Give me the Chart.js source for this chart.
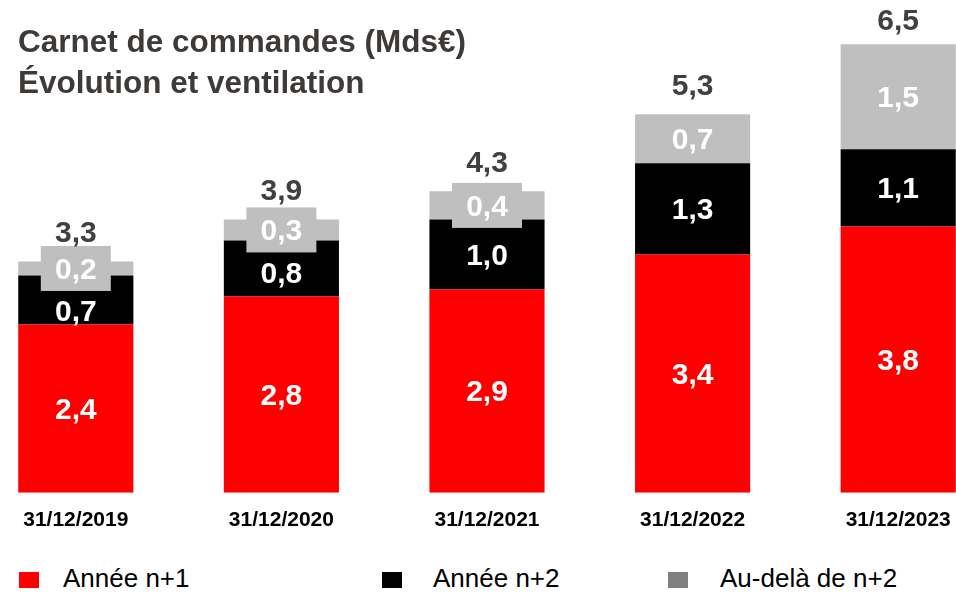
<!DOCTYPE html>
<html>
<head>
<meta charset="utf-8">
<script src="https://cdn.jsdelivr.net/npm/chart.js@4.4.0/dist/chart.umd.min.js"></script>
<style>
  body { margin: 0; width: 956px; height: 593px; overflow: hidden; position: relative; background: #fff;
         font-family: "Liberation Sans", Arial, sans-serif; }
  #titre { position: absolute; left: 18px; top: 21px; font-size: 31.5px; line-height: 41px; font-weight: bold; color: #3d3a38; z-index: 2; }
  #wrap { position: absolute; left: -27px; top: 0; width: 1028px; height: 540px; }
  .leg { position: absolute; top: 563px; font-size: 26px; color: #000; height: 30px; line-height: 30px; }
  .leg span { position: absolute; left: 0; top: 9px; width: 20px; height: 16px; }
  .leg b { font-weight: normal; position: absolute; white-space: nowrap; }
</style>
</head>
<body>
<div id="titre">Carnet de commandes (Mds€)<br>Évolution et ventilation</div>
<div id="wrap"><canvas id="graphique"></canvas></div>
<div id="legende"></div>
<script>
// DONNÉES
const categories = ['31/12/2019', '31/12/2020', '31/12/2021', '31/12/2022', '31/12/2023'];
const anneeN1 = [2.4, 2.8, 2.9, 3.4, 3.8];
const anneeN2 = [0.7, 0.8, 1.0, 1.3, 1.1];
const auDela = [0.2, 0.3, 0.4, 0.7, 1.5];
const totaux = [3.3, 3.9, 4.3, 5.3, 6.5];
const series = ['Année n+1', 'Année n+2', 'Au-delà de n+2'];

const couleurs = ['#ff0000', '#000000', '#bfbfbf'];
const couleursLegende = ['#ff0000', '#000000', '#808080'];

const fmt = v => v.toFixed(1).replace('.', ',');

// LÉGENDE (HTML)
const legende = document.getElementById('legende');
[[19, 63], [382, 433], [668, 720]].forEach((pos, i) => {
    const d = document.createElement('div');
    d.className = 'leg';
    d.style.left = pos[0] + 'px';
    d.innerHTML = '<span style="background:' + couleursLegende[i] + '"></span><b style="left:' + (pos[1] - pos[0]) + 'px">' + series[i] + '</b>';
    legende.appendChild(d);
});

// ÉTIQUETTES
const etiquettes = {
    id: 'etiquettes',
    afterDatasetsDraw(chart) {
        const ctx = chart.ctx;
        ctx.save();
        ctx.textAlign = 'center';
        ctx.textBaseline = 'middle';
        ctx.font = 'bold 30px "Liberation Sans", Arial, sans-serif';
        const gris = chart.getDatasetMeta(2).data;
        const noirs = chart.getDatasetMeta(1).data;
        const rouges = chart.getDatasetMeta(0).data;
        categories.forEach((c, i) => {
            // rouge
            const r = rouges[i];
            ctx.fillStyle = '#fff';
            ctx.fillText(fmt(anneeN1[i]), r.x, (r.y + r.base) / 2 + 2);
            // gris avec fond
            const g = gris[i];
            const gy = (g.y + g.base) / 2;
            const h = g.base - g.y;
            let basBoite = g.base;
            if (h < 45) {
                ctx.fillStyle = couleurs[2];
                ctx.fillRect(g.x - 35, gy - 22.5, 70, 45);
                basBoite = gy + 22.5;
            }
            ctx.fillStyle = '#fff';
            ctx.fillText(fmt(auDela[i]), g.x, gy + 2);
            // noir
            const n = noirs[i];
            let ny = (n.y + n.base) / 2;
            ny = Math.max(ny, basBoite + 20);
            ctx.fillText(fmt(anneeN2[i]), n.x, ny + 2);
            // total
            ctx.fillStyle = '#404040';
            ctx.fillText(fmt(totaux[i]), g.x, Math.max(g.y - 28, 22));
        });
        ctx.restore();
    }
};

// GRAPHIQUE
new Chart(document.getElementById('graphique'), {
    type: 'bar',
    data: {
        labels: categories,
        datasets: [
            { label: series[0], data: anneeN1, backgroundColor: couleurs[0] },
            { label: series[1], data: anneeN2, backgroundColor: couleurs[1] },
            { label: series[2], data: auDela, backgroundColor: couleurs[2] }
        ]
    },
    options: {
        responsive: true,
        maintainAspectRatio: false,
        animation: false,
        layout: { padding: 0 },
        datasets: { bar: { categoryPercentage: 1, barPercentage: 0.56 } },
        plugins: { legend: { display: false }, tooltip: { enabled: false } },
        scales: {
            x: {
                stacked: true,
                grid: { display: false },
                border: { display: false },
                ticks: {
                    color: '#000',
                    padding: 7,
                    font: { family: '"Liberation Sans", Arial, sans-serif', size: 21, weight: 'bold' }
                }
            },
            y: { stacked: true, display: false, min: 0, max: 7.03 }
        }
    },
    plugins: [etiquettes]
});
</script>
</body>
</html>
